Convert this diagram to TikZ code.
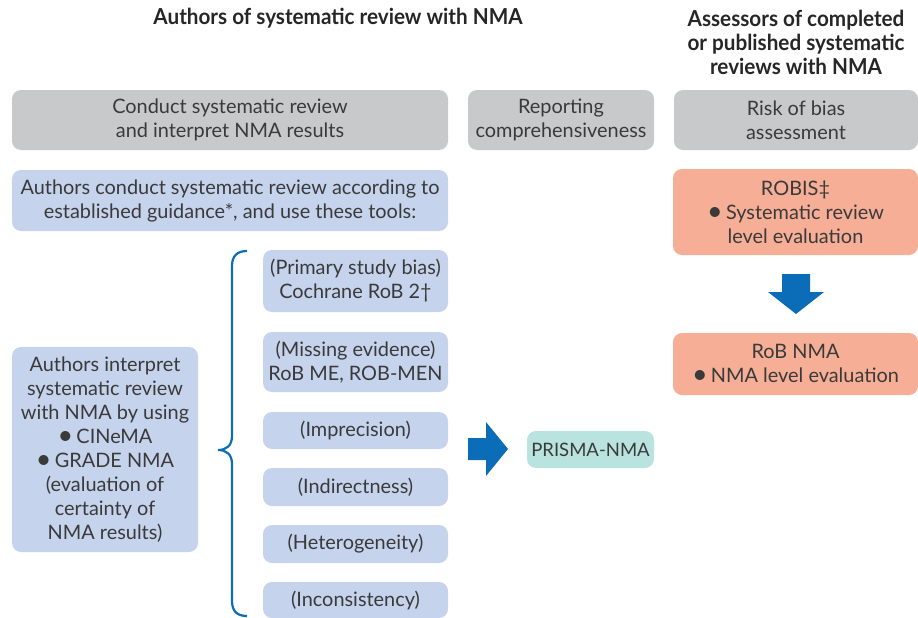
\documentclass[tikz,border=0pt]{standalone}
\usepackage{fontspec}
\setmainfont{Lato}
\newfontfamily\headfont[FakeStretch=0.94]{Lato Bold}
\newcommand{\bigbul}{\raisebox{-1.2pt}{\scalebox{1.35}{•}}\,}
\definecolor{grayfill}{HTML}{C8C9CB}
\definecolor{bluefill}{HTML}{C6D3ED}
\definecolor{salmon}{HTML}{F7AE97}
\definecolor{tealfill}{HTML}{B8E3DE}
\definecolor{arrowblue}{HTML}{0B6DB7}
\definecolor{txt}{HTML}{3A3A3A}
\begin{document}
\begin{tikzpicture}[x=1pt,y=-1pt,
  box/.style={rounded corners=9pt, align=center, inner sep=0pt, text=txt,
    font=\fontsize{19.9}{24}\selectfont},
  graybox/.style={box, fill=grayfill},
  bluebox/.style={box, fill=bluefill},
  salmonbox/.style={box, fill=salmon},
  tealbox/.style={box, fill=tealfill},
  head/.style={align=center, text=black!85, font=\headfont\fontsize{22}{24}\selectfont},
  bracepath/.style={draw=arrowblue, line width=2.2pt},
  blockarrow/.style={fill=arrowblue, draw=none}]
\useasboundingbox (0,0) rectangle (918,618);
% headers
\node[head] (h1) at (338,18) {Authors of systematic review with NMA};
\node[head] (h2) at (796,42) {Assessors of completed\\or published systematic\\reviews with NMA};
% gray headers
\node[graybox, minimum width=436pt, minimum height=60pt] (g1) at (230,120) {Conduct systematic review\\and interpret NMA results};
\node[graybox, minimum width=186pt, minimum height=60pt] (g2) at (561,120) {Reporting\\comprehensiveness};
\node[graybox, minimum width=244pt, minimum height=60pt] (g3) at (796,120) {Risk of bias\\assessment};
% blue boxes
\node[bluebox, minimum width=436pt, minimum height=61pt] (b0) at (230,200.5) {Authors conduct systematic review according to\\established guidance*, and use these tools:};
\node[bluebox, minimum width=185pt, minimum height=62pt] (p1) at (355.5,281) {(Primary study bias)\\Cochrane RoB 2†};
\node[bluebox, minimum width=185pt, minimum height=60pt] (p2) at (355.5,362) {(Missing evidence)\\RoB ME, ROB-MEN};
\node[bluebox, minimum width=185pt, minimum height=37pt] (p3) at (355.5,430.5) {(Imprecision)};
\node[bluebox, minimum width=185pt, minimum height=38pt] (p4) at (355.5,487) {(Indirectness)};
\node[bluebox, minimum width=185pt, minimum height=38pt] (p5) at (355.5,544) {(Heterogeneity)};
\node[bluebox, minimum width=185pt, minimum height=36pt] (p6) at (355.5,600) {(Inconsistency)};
\node[bluebox, minimum width=186pt, minimum height=205pt] (L) at (105,449.5) {Authors interpret\\systematic review\\with NMA by using\\\bigbul CINeMA\\\bigbul GRADE NMA\\(evaluation of\\certainty of\\NMA results)};
% teal and salmon
\node[tealbox, minimum width=127pt, minimum height=37pt, font=\fontsize{18.5}{24}\selectfont] (prisma) at (590.5,449.5) {PRISMA-NMA};
\node[salmonbox, minimum width=245pt, minimum height=86pt] (robis) at (795.5,212) {ROBIS‡\\\bigbul Systematic review\\level evaluation};
\node[salmonbox, minimum width=245pt, minimum height=62pt] (robnma) at (795.5,364) {RoB NMA\\\bigbul NMA level evaluation};
% brace
\draw[bracepath] (247,251) .. controls (237,251) and (232,256) .. (232,266) -- (232,436) .. controls (232,446) and (226,450) .. (218,450) .. controls (226,450) and (232,454) .. (232,464) -- (232,601) .. controls (232,611) and (237,616) .. (247,616);
% right block arrow
\fill[blockarrow] (468,438) -- (486,438) -- (486,422) -- (508,449) -- (486,476) -- (486,460) -- (468,460) -- cycle;
% down block arrow
\fill[blockarrow] (782,274) -- (810,274) -- (810,292) -- (824,292) -- (796,314) -- (768,292) -- (782,292) -- cycle;
\end{tikzpicture}
\end{document}
